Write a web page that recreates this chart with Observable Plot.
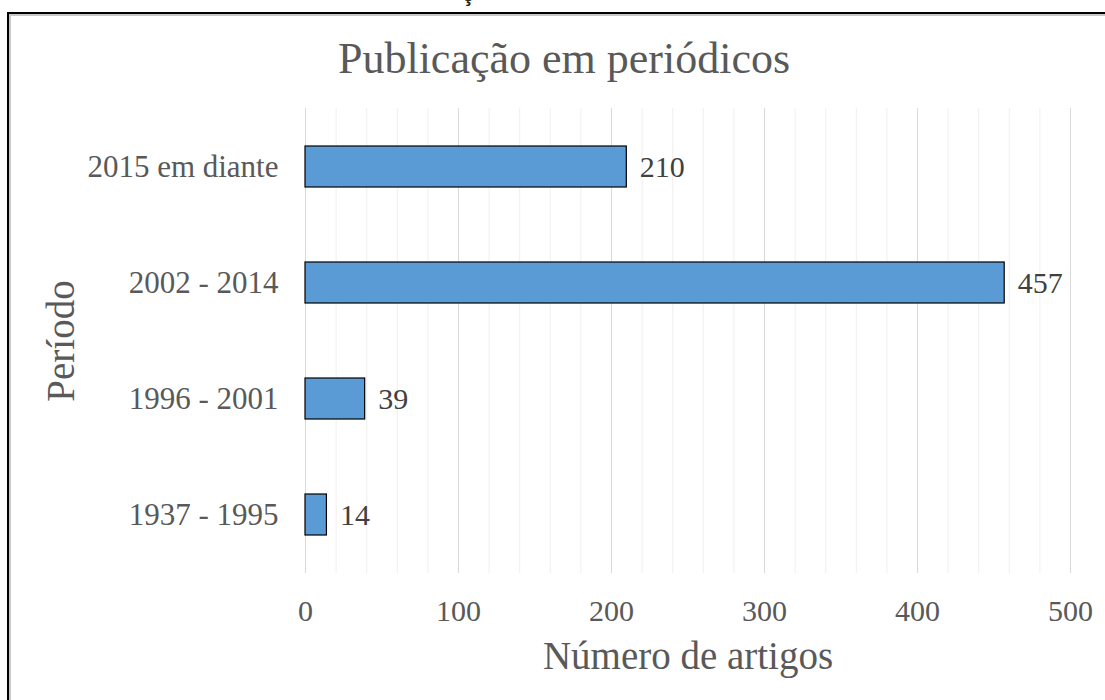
<!DOCTYPE html>
<html><head><meta charset="utf-8">
<script src="https://cdn.jsdelivr.net/npm/d3@7"></script>
<script src="https://cdn.jsdelivr.net/npm/@observablehq/plot@0.6"></script>
<style>
html,body{margin:0;padding:0;background:#fff;overflow:hidden;width:1105px;height:700px;}
#wrap{position:relative;width:1105px;height:700px;overflow:hidden;font-family:"Liberation Serif","Times New Roman",serif;}
#frame{position:absolute;left:7px;top:12px;width:1120px;height:720px;border-top:2px solid #000;border-left:2px solid #000;box-shadow:inset 2px 2px 0 #c8c8c8;pointer-events:none;}
#frag{position:absolute;left:462px;top:-17px;font-family:"Liberation Sans",sans-serif;font-weight:bold;font-size:22px;line-height:22px;color:#222;}
#title{position:absolute;left:0;width:1128px;top:37px;text-align:center;font-size:44px;line-height:44px;color:#595959;}
#chart{position:absolute;left:0;top:0;}
</style>
</head>
<body>
<div id="wrap">
  <div id="chart"></div>
  <div id="title">Publicação em periódicos</div>
  <div id="frag">ç</div>
  <div id="frame"></div>
</div>
<script>
const periods = ["2015 em diante", "2002 - 2014", "1996 - 2001", "1937 - 1995"];
const counts = [210, 457, 39, 14];
const xTicks = [0, 100, 200, 300, 400, 500];
const minorTicks = d3.range(0, 501, 20);

const data = periods.map((p, i) => ({period: p, count: counts[i]}));

const chart = Plot.plot({
  width: 1105,
  height: 700,
  marginLeft: 305,
  marginRight: 35,
  marginTop: 108,
  marginBottom: 127,
  style: {fontFamily: "'Liberation Serif','Times New Roman',serif", background: "transparent", overflow: "visible"},
  x: {domain: [0, 500], axis: null},
  y: {domain: periods, paddingInner: 0.647, paddingOuter: 0.3235, axis: null},
  marks: [
    Plot.gridX(minorTicks, {stroke: "#efefef", strokeOpacity: 1}),
    Plot.gridX(xTicks, {stroke: "#d9d9d9", strokeOpacity: 1}),
    Plot.barX(data, {x: "count", y: "period", fill: "#5B9BD5", stroke: "#000", strokeWidth: 1.2}),
    Plot.text(data, {x: "count", y: "period", text: d => String(d.count), dx: 13, textAnchor: "start", fontSize: 30, fill: "#404040"}),
    Plot.axisX(xTicks, {tickSize: 0, tickPadding: 26, fontSize: 30, fill: "#595959", label: null}),
    Plot.axisY({tickSize: 0, tickPadding: 27, fontSize: 31, fill: "#595959", label: null}),
    Plot.text(["Número de artigos"], {text: d => d, frameAnchor: "bottom", dy: 95, textAnchor: "middle", lineAnchor: "bottom", fontSize: 39, fill: "#595959"}),
    Plot.text(["Período"], {text: d => d, frameAnchor: "left", dx: -232, rotate: -90, textAnchor: "middle", lineAnchor: "bottom", fontSize: 39, fill: "#595959"})
  ]
});
document.getElementById("chart").appendChild(chart);
</script>
</body></html>
